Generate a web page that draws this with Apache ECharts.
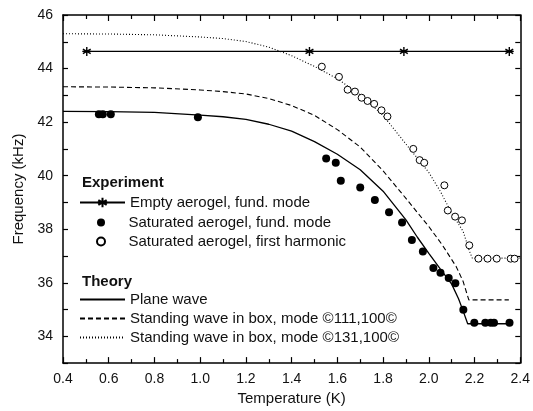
<!DOCTYPE html>
<html><head><meta charset="utf-8">
<script src="https://cdn.jsdelivr.net/npm/echarts@6/dist/echarts.min.js"></script>
<style>html,body{margin:0;padding:0;background:#fff;overflow:hidden}#c{width:533px;height:411px}</style>
</head><body><div id="c"></div>
<script>
// ---- data ----
const emptyT = [0.504, 1.478, 1.891, 2.352];
const emptyF = [44.64, 44.64, 44.64, 44.64];

const satT = [0.557, 0.574, 0.609, 0.99, 1.551, 1.593, 1.615, 1.70, 1.764, 1.826, 1.883, 1.926, 1.974, 2.020, 2.051, 2.087, 2.116, 2.151, 2.199, 2.247, 2.271, 2.285, 2.353];
const satF = [42.29, 42.29, 42.29, 42.18, 40.64, 40.48, 39.81, 39.56, 39.09, 38.63, 38.25, 37.60, 37.17, 36.55, 36.37, 36.18, 35.98, 34.99, 34.51, 34.51, 34.51, 34.51, 34.51];

const harmT = [1.532, 1.607, 1.645, 1.677, 1.706, 1.732, 1.761, 1.793, 1.819, 1.932, 1.960, 1.980, 2.068, 2.083, 2.115, 2.145, 2.177, 2.217, 2.257, 2.297, 2.358, 2.375];
const harmF = [44.07, 43.69, 43.21, 43.14, 42.91, 42.79, 42.68, 42.44, 42.21, 41.00, 40.58, 40.48, 39.64, 38.70, 38.47, 38.33, 37.40, 36.90, 36.90, 36.90, 36.90, 36.90];

const planeT = [0.40, 0.60, 0.80, 1.00, 1.10, 1.20, 1.30, 1.40, 1.50, 1.60, 1.70, 1.80, 1.90, 1.95, 2.00, 2.05, 2.10, 2.13, 2.15, 2.17, 2.36];
const planeF = [42.40, 42.39, 42.36, 42.26, 42.20, 42.10, 41.92, 41.66, 41.27, 40.80, 40.22, 39.42, 38.35, 37.70, 37.10, 36.52, 35.95, 35.40, 34.95, 34.47, 34.47];

const box111T = [0.40, 0.60, 0.80, 1.00, 1.10, 1.20, 1.30, 1.40, 1.50, 1.60, 1.70, 1.80, 1.90, 2.00, 2.06, 2.12, 2.15, 2.175, 2.35];
const box111F = [43.32, 43.31, 43.28, 43.20, 43.14, 43.05, 42.88, 42.62, 42.25, 41.72, 41.07, 40.18, 39.15, 38.10, 37.40, 36.60, 36.05, 35.36, 35.36];

const box131T = [0.40, 0.60, 0.80, 1.00, 1.10, 1.20, 1.30, 1.40, 1.50, 1.60, 1.70, 1.80, 1.90, 2.00, 2.05, 2.10, 2.15, 2.177, 2.19, 2.40];
const box131F = [45.30, 45.29, 45.26, 45.18, 45.12, 45.01, 44.80, 44.48, 44.08, 43.62, 43.02, 42.25, 41.18, 40.12, 39.42, 38.60, 37.92, 37.20, 36.92, 36.92];

const xTicks = {min: 0.4, max: 2.4, step: 0.2};
const yTicks = {min: 33, max: 46, step: 1, labelEvery: 2};

const names = {
  empty: 'Empty aerogel, fund. mode',
  sat: 'Saturated aerogel, fund. mode',
  harm: 'Saturated aerogel, first harmonic',
  plane: 'Plane wave',
  b111: 'Standing wave in box, mode \u00A9111,100\u00A9',
  b131: 'Standing wave in box, mode \u00A9131,100\u00A9'
};

// ---- build ----
const zip = (a, b) => a.map((v, i) => [v, b[i]]);
const FONT = 'Liberation Sans, Arial, Helvetica, sans-serif';
const TXT = '#111';
const starPath = 'path://M5,0L5,10M0.67,2.5L9.33,7.5M0.67,7.5L9.33,2.5M0,5L10,5';

const axisCommon = {
  axisLine: {show: true, onZero: false, lineStyle: {color: '#000', width: 1.5}},
  splitLine: {show: false},
  axisTick: {show: true, inside: true, length: 6, lineStyle: {color: '#000', width: 1.2}},
};

const chart = echarts.init(document.getElementById('c'), null, {renderer: 'canvas'});
const legendText = {fontSize: 15, color: TXT, fontFamily: FONT};
const legendBase = {orient: 'vertical', left: 74, itemWidth: 45, itemGap: 4, textStyle: legendText, selectedMode: false};
chart.setOption({
  animation: false,
  backgroundColor: '#fff',
  textStyle: {fontFamily: FONT, color: TXT},
  grid: {left: 63, right: 10, top: 15, bottom: 43, containLabel: false},
  xAxis: [
    Object.assign({}, axisCommon, {
      type: 'value', position: 'bottom', min: xTicks.min, max: xTicks.max, interval: xTicks.step,
      minorTick: {show: true, splitNumber: 2, length: 4, lineStyle: {color: '#000', width: 1.2}},
      axisLabel: {fontSize: 14, color: TXT, fontFamily: FONT, margin: 9, formatter: v => v.toFixed(1)},
      name: 'Temperature (K)', nameLocation: 'middle', nameGap: 26,
      nameTextStyle: {fontSize: 15, color: TXT, fontFamily: FONT}
    }),
    Object.assign({}, axisCommon, {
      type: 'value', position: 'top', min: xTicks.min, max: xTicks.max, interval: xTicks.step,
      minorTick: {show: true, splitNumber: 2, length: 4, lineStyle: {color: '#000', width: 1.2}},
      axisLabel: {show: false}
    })
  ],
  yAxis: [
    Object.assign({}, axisCommon, {
      type: 'value', position: 'left', min: yTicks.min, max: yTicks.max, interval: yTicks.step,
      axisTick: {show: true, inside: true, length: 5, lineStyle: {color: '#000', width: 1.2}},
      axisLabel: {fontSize: 14, color: TXT, fontFamily: FONT, margin: 10,
        formatter: v => (Math.round(v) % yTicks.labelEvery === 0 ? String(Math.round(v)) : '')},
      name: 'Frequency (kHz)', nameLocation: 'middle', nameGap: 37, nameRotate: 90,
      nameTextStyle: {fontSize: 15, color: TXT, fontFamily: FONT}
    }),
    Object.assign({}, axisCommon, {
      type: 'value', position: 'right', min: yTicks.min, max: yTicks.max, interval: yTicks.step,
      axisTick: {show: true, inside: true, length: 5, lineStyle: {color: '#000', width: 1.2}},
      axisLabel: {show: false}
    })
  ],
  legend: [
    Object.assign({}, legendBase, {data: [names.empty], top: 190, itemHeight: 12}),
    Object.assign({}, legendBase, {data: [names.sat, names.harm], left: 91, top: 210, itemHeight: 8}),
    Object.assign({}, legendBase, {
      data: [
        {name: names.plane, itemStyle: {opacity: 0}},
        {name: names.b111, itemStyle: {opacity: 0}},
        {name: names.b131, itemStyle: {opacity: 0}}
      ],
      top: 287, itemHeight: 8
    })
  ],
  graphic: [
    {type: 'text', left: 82, top: 175, style: {text: 'Experiment', font: 'bold 15px ' + FONT, fill: TXT}},
    {type: 'text', left: 82, top: 274, style: {text: 'Theory', font: 'bold 15px ' + FONT, fill: TXT}}
  ],
  series: [
    {name: names.plane, type: 'line', data: zip(planeT, planeF), symbol: 'none',
     itemStyle: {color: '#000'},
     lineStyle: {color: '#000', width: 1.3, type: 'solid'}, z: 2},
    {name: names.b111, type: 'line', data: zip(box111T, box111F), symbol: 'none',
     itemStyle: {color: '#000'},
     lineStyle: {color: '#000', width: 1.1, type: [5, 3]}, z: 2},
    {name: names.b131, type: 'line', data: zip(box131T, box131F), symbol: 'none',
     itemStyle: {color: '#000'},
     lineStyle: {color: '#000', width: 1.1, type: [1, 2]}, z: 2},
    {name: names.empty, type: 'line', data: zip(emptyT, emptyF), symbol: starPath, symbolSize: 9,
     symbolKeepAspect: true, showAllSymbol: true,
     itemStyle: {color: '#000', borderColor: '#000', borderWidth: 1.4},
     lineStyle: {color: '#000', width: 1.2}, z: 3},
    {name: names.sat, type: 'scatter', data: zip(satT, satF), symbol: 'circle', symbolSize: 8,
     itemStyle: {color: '#000', borderColor: '#000', borderWidth: 0, opacity: 1}, z: 4},
    {name: names.harm, type: 'scatter', data: zip(harmT, harmF), symbol: 'circle', symbolSize: 7,
     itemStyle: {color: '#fff', borderColor: '#000', borderWidth: 1, opacity: 1}, z: 4}
  ]
});
</script></body></html>
